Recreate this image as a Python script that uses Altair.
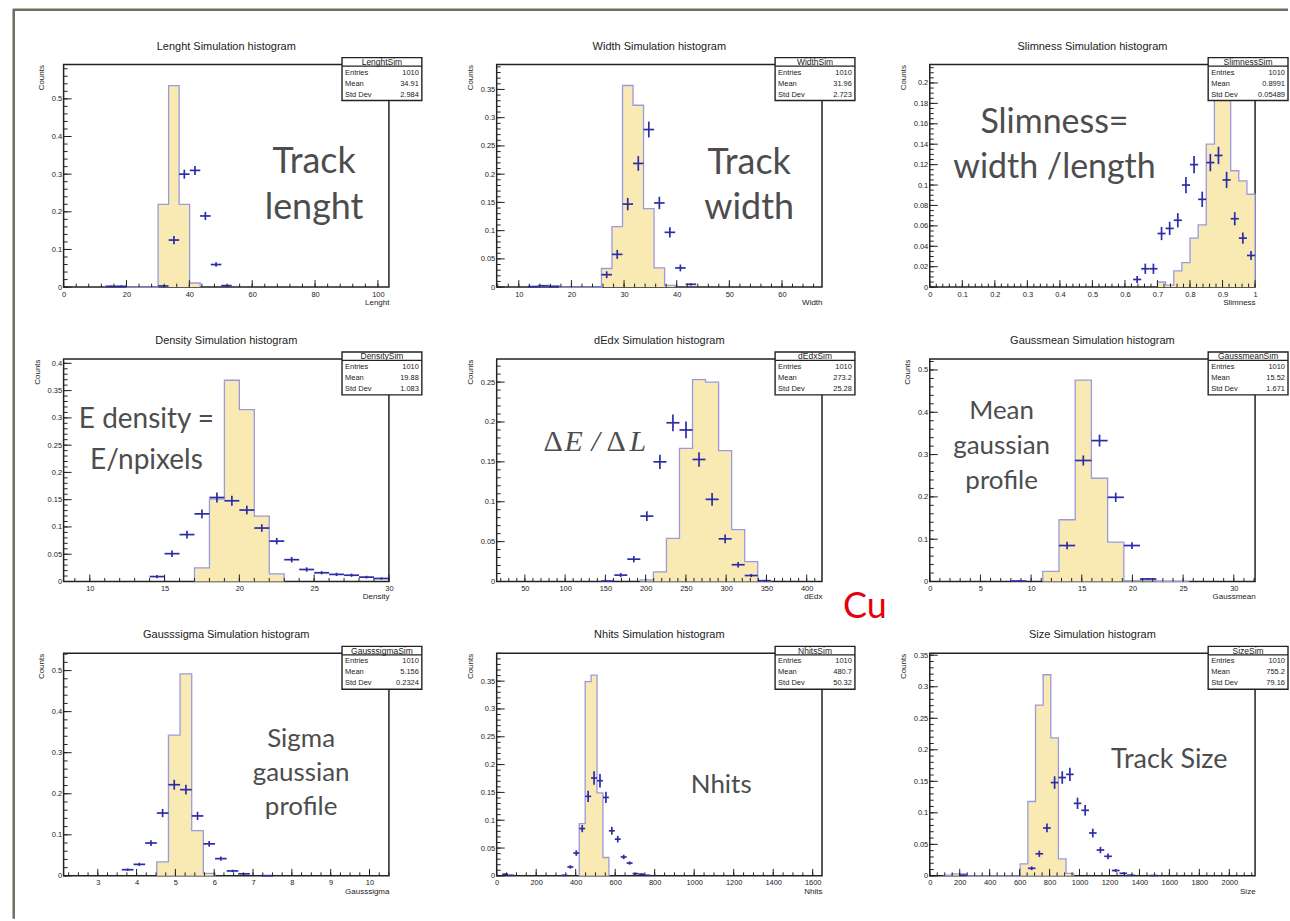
import altair as alt
import numpy as np
import pandas as pd

# ---------------- data ----------------
# 1 Lenght
LEN_EDGES = [13.3, 16.65, 20.0, 23.35, 26.7, 30.05, 33.4, 36.75, 40.1, 43.45]
LEN_VALS = [0.002, 0.002, 0, 0, 0, 0.22, 0.535, 0.22, 0.011]
LEN_X = [15.0, 18.3, 31.7, 35.1, 38.4, 41.8, 45.1, 48.5, 51.8]
LEN_Y = [0.002, 0.002, 0.003, 0.125, 0.30, 0.31, 0.189, 0.06, 0.004]
LEN_ERR = [0.002, 0.002, 0.002, 0.011, 0.012, 0.012, 0.011, 0.006, 0.002]
# 2 Width
WID_EDGES = [13.7, 15.7, 17.7, 19.7, 21.7, 23.7, 25.7, 27.7, 29.7, 31.7, 33.7, 35.7, 37.7, 39.7]
WID_VALS = [0.003, 0.002, 0, 0, 0, 0, 0.033, 0.107, 0.357, 0.322, 0.139, 0.034, 0.003]
WID_X = [12.7, 14.7, 16.7, 26.7, 28.7, 30.7, 32.7, 34.7, 36.7, 38.7, 40.7, 42.7]
WID_Y = [0.001, 0.002, 0.001, 0.022, 0.058, 0.147, 0.219, 0.279, 0.149, 0.097, 0.034, 0.005]
WID_ERR = [0.001, 0.001, 0.001, 0.006, 0.008, 0.011, 0.013, 0.014, 0.011, 0.009, 0.006, 0.002]
# 3 Slimness
SLI_EDGES = [0.700, 0.725, 0.750, 0.775, 0.800, 0.825, 0.850, 0.875, 0.900, 0.925, 0.950, 0.975, 1.000]
SLI_VALS = [0.005, 0.002, 0.016, 0.024, 0.048, 0.061, 0.14, 0.2, 0.208, 0.114, 0.104, 0.091]
SLI_X = [0.6375, 0.6625, 0.6875, 0.7125, 0.7375, 0.7625, 0.7875, 0.8125, 0.8375, 0.8625,
         0.8875, 0.9125, 0.9375, 0.9625, 0.9875]
SLI_Y = [0.0075, 0.018, 0.018, 0.0525, 0.0575, 0.0655, 0.10, 0.12, 0.086, 0.122, 0.129, 0.105,
         0.067, 0.048, 0.031]
SLI_ERR = [0.0035, 0.005, 0.005, 0.0065, 0.0065, 0.007, 0.008, 0.0085, 0.0075, 0.0085, 0.0085,
           0.008, 0.0065, 0.0055, 0.0045]
# 4 Density
DEN_EDGES = [17, 18, 19, 20, 21, 22, 23]
DEN_VALS = [0.025, 0.151, 0.369, 0.315, 0.12, 0.014]
DEN_X = [14.5, 15.5, 16.5, 17.5, 18.5, 19.5, 20.5, 21.5, 22.5, 23.5, 24.5, 25.5, 26.5, 27.5, 28.5, 29.5]
DEN_Y = [0.009, 0.051, 0.086, 0.124, 0.154, 0.148, 0.131, 0.098, 0.074, 0.040, 0.022, 0.016, 0.013,
         0.0115, 0.008, 0.0055]
DEN_ERR = [0.003, 0.006, 0.007, 0.008, 0.009, 0.009, 0.008, 0.007, 0.006, 0.005, 0.004, 0.003, 0.003,
           0.003, 0.0025, 0.002]
# 5 dEdx
DED_EDGES = [193.4, 209.6, 225.8, 242.0, 258.2, 274.4, 290.6, 306.8, 323.0, 339.2, 355.4]
DED_VALS = [0.002, 0.012, 0.054, 0.167, 0.253, 0.25, 0.164, 0.065, 0.025, 0.001]
DED_X = [152.9, 169.1, 185.3, 201.5, 217.7, 233.9, 250.1, 266.3, 282.5, 298.7, 314.9, 331.1, 347.3]
DED_Y = [0.0005, 0.008, 0.028, 0.082, 0.150, 0.199, 0.19, 0.153, 0.103, 0.0535, 0.021, 0.0075, 0.001]
DED_ERR = [0.0005, 0.0025, 0.004, 0.006, 0.009, 0.0105, 0.0105, 0.009, 0.008, 0.0055, 0.0035, 0.002, 0.001]
# 6 Gaussmean
GM_EDGES = [11.15, 12.75, 14.35, 15.95, 17.55, 19.15, 20.75, 22.35, 23.95, 25.55]
GM_VALS = [0.024, 0.146, 0.476, 0.244, 0.093, 0.002, 0.003, 0.0005, 0.0005]
GM_X = [8.75, 13.55, 15.15, 16.75, 18.35, 19.95, 21.55]
GM_Y = [0.001, 0.085, 0.286, 0.333, 0.199, 0.085, 0.006]
GM_ERR = [0.001, 0.009, 0.012, 0.014, 0.011, 0.008, 0.002]
# 7 Gausssigma
GS_EDGES = [4.52, 4.82, 5.12, 5.42, 5.72, 6.02]
GS_VALS = [0.034, 0.343, 0.492, 0.11, 0.006]
GS_X = [3.77, 4.07, 4.37, 4.67, 4.97, 5.27, 5.57, 5.87, 6.17, 6.47, 6.77, 7.37]
GS_Y = [0.015, 0.028, 0.08, 0.153, 0.222, 0.21, 0.146, 0.078, 0.042, 0.012, 0.005, 0.0005]
GS_ERR = [0.003, 0.004, 0.007, 0.01, 0.012, 0.012, 0.01, 0.007, 0.005, 0.003, 0.002, 0.001]
# 8 Nhits
NH_EDGES = [418, 448, 478, 508, 538, 568]
NH_VALS = [0.094, 0.349, 0.361, 0.149, 0.033]
NH_X = [43, 73, 343, 373, 403, 433, 463, 493, 523, 553, 583, 613, 643, 673, 703, 733, 763]
NH_Y = [0.003, 0.001, 0.001, 0.016, 0.041, 0.085, 0.143, 0.176, 0.171, 0.141, 0.081, 0.066, 0.034,
        0.023, 0.004, 0.003, 0.001]
NH_ERR = [0.001, 0.001, 0.001, 0.003, 0.005, 0.0065, 0.01, 0.012, 0.012, 0.01, 0.007, 0.006, 0.004,
          0.003, 0.0015, 0.0015, 0.001]
# 9 Size
SZ_EDGES = [94, 145, 196, 247, 298, 349, 400, 451, 502, 553, 604, 655, 706, 757, 808, 859, 910, 961]
SZ_VALS = [0.001, 0.003, 0.003, 0, 0, 0, 0, 0, 0, 0, 0.019, 0.118, 0.271, 0.319, 0.219, 0.027, 0.004]
SZ_X = [221.5, 680.5, 731.5, 782.5, 833.5, 884.5, 935.5, 986.5, 1037.5, 1088.5, 1139.5, 1190.5,
        1241.5, 1292.5, 1343.5, 1496.5]
SZ_Y = [0.001, 0.012, 0.035, 0.076, 0.148, 0.156, 0.161, 0.115, 0.104, 0.068, 0.041, 0.031, 0.0085,
        0.004, 0.001, 0.0005]
SZ_ERR = [0.001, 0.003, 0.005, 0.007, 0.01, 0.01, 0.0105, 0.009, 0.0085, 0.007, 0.005, 0.0045, 0.0025,
          0.0015, 0.001, 0.0005]

# tick labels
X_TICKS = {
    "Lenght": [0, 20, 40, 60, 80, 100],
    "Width": [10, 20, 30, 40, 50, 60],
    "Slimness": [0, 0.1, 0.2, 0.3, 0.4, 0.5, 0.6, 0.7, 0.8, 0.9, 1],
    "Density": [10, 15, 20, 25, 30],
    "dEdx": [50, 100, 150, 200, 250, 300, 350, 400],
    "Gaussmean": [0, 5, 10, 15, 20, 25, 30],
    "Gausssigma": [3, 4, 5, 6, 7, 8, 9, 10],
    "Nhits": [0, 200, 400, 600, 800, 1000, 1200, 1400, 1600],
    "Size": [0, 200, 400, 600, 800, 1000, 1200, 1400, 1600, 1800, 2000],
}
Y_TICKS = {
    "Lenght": [0, 0.1, 0.2, 0.3, 0.4, 0.5],
    "Width": [0, 0.05, 0.1, 0.15, 0.2, 0.25, 0.3, 0.35],
    "Slimness": [0, 0.02, 0.04, 0.06, 0.08, 0.1, 0.12, 0.14, 0.16, 0.18, 0.2],
    "Density": [0, 0.05, 0.1, 0.15, 0.2, 0.25, 0.3, 0.35, 0.4],
    "dEdx": [0, 0.05, 0.1, 0.15, 0.2, 0.25],
    "Gaussmean": [0, 0.1, 0.2, 0.3, 0.4, 0.5],
    "Gausssigma": [0, 0.1, 0.2, 0.3, 0.4, 0.5],
    "Nhits": [0, 0.05, 0.1, 0.15, 0.2, 0.25, 0.3, 0.35],
    "Size": [0, 0.05, 0.1, 0.15, 0.2, 0.25, 0.3, 0.35],
}
STATS = {
    "Lenght": ("LenghtSim", "1010", "34.91", "2.984"),
    "Width": ("WidthSim", "1010", "31.96", "2.723"),
    "Slimness": ("SlimnessSim", "1010", "0.8991", "0.05489"),
    "Density": ("DensitySim", "1010", "19.88", "1.083"),
    "dEdx": ("dEdxSim", "1010", "273.2", "25.28"),
    "Gaussmean": ("GaussmeanSim", "1010", "15.52", "1.671"),
    "Gausssigma": ("GausssigmaSim", "1010", "5.156", "0.2324"),
    "Nhits": ("NhitsSim", "1010", "480.7", "50.32"),
    "Size": ("SizeSim", "1010", "755.2", "79.16"),
}

# ---------------- style ----------------
W, H = 326, 223
SANS = "Liberation Sans"
ANN = "Lato"
SERIF = "Liberation Serif"
YELLOW = "#f9e9b3"
OUTLINE = "#9a9ae0"
BLUE = "#2c2ca8"
DARK = "#222222"
ANN_C = "#4d4d4d"

PANELS = [
    dict(name="Lenght", xdom=[0, 103.5], ydom=[0, 0.591], xminor=4, yminor=0.02,
         edges=LEN_EDGES, vals=LEN_VALS, cx=LEN_X, cy=LEN_Y, ce=LEN_ERR, hw=1.675,
         ann=[("Track", 251, 109, 36, ANN, "normal", "center"),
              ("lenght", 251, 155, 36, ANN, "normal", "center")]),
    dict(name="Width", xdom=[5.8, 67.6], ydom=[0, 0.394], xminor=2, yminor=0.01,
         edges=WID_EDGES, vals=WID_VALS, cx=WID_X, cy=WID_Y, ce=WID_ERR, hw=1.0,
         ann=[("Track", 253, 110, 36, ANN, "normal", "center"),
              ("width", 253, 155, 36, ANN, "normal", "center")]),
    dict(name="Slimness", xdom=[0, 1.0], ydom=[0, 0.218], xminor=0.02, yminor=0.005,
         edges=SLI_EDGES, vals=SLI_VALS, cx=SLI_X, cy=SLI_Y, ce=SLI_ERR, hw=0.0125,
         ann=[("Slimness=", 125, 69, 34, ANN, "normal", "center"),
              ("width /length", 125, 114, 34, ANN, "normal", "center")]),
    dict(name="Density", xdom=[8.25, 30], ydom=[0, 0.408], xminor=1, yminor=0.01,
         edges=DEN_EDGES, vals=DEN_VALS, cx=DEN_X, cy=DEN_Y, ce=DEN_ERR, hw=0.5,
         ann=[("E density =", 83, 69, 28, ANN, "normal", "center"),
              ("E/npixels", 83, 110, 28, ANN, "normal", "center")]),
    dict(name="dEdx", xdom=[15, 419], ydom=[0, 0.279], xminor=10, yminor=0.01,
         edges=DED_EDGES, vals=DED_VALS, cx=DED_X, cy=DED_Y, ce=DED_ERR, hw=8.1,
         ann=[("Δ", 47, 92, 30, SERIF, "normal", "left"),
              ("E", 68, 92, 30, SERIF, "italic", "left"),
              ("/", 95, 92, 30, SERIF, "italic", "left"),
              ("Δ", 110, 92, 30, SERIF, "normal", "left"),
              ("L", 133, 92, 30, SERIF, "italic", "left")]),
    dict(name="Gaussmean", xdom=[0, 32.1], ydom=[0, 0.526], xminor=1, yminor=0.02,
         edges=GM_EDGES, vals=GM_VALS, cx=GM_X, cy=GM_Y, ce=GM_ERR, hw=0.8,
         ann=[("Mean", 72, 60, 26, ANN, "normal", "center"),
              ("gaussian", 72, 95, 26, ANN, "normal", "center"),
              ("profile", 72, 130, 26, ANN, "normal", "center")]),
    dict(name="Gausssigma", xdom=[2.12, 10.5], ydom=[0, 0.542], xminor=0.25, yminor=0.02,
         edges=GS_EDGES, vals=GS_VALS, cx=GS_X, cy=GS_Y, ce=GS_ERR, hw=0.15,
         ann=[("Sigma", 238, 94, 26, ANN, "normal", "center"),
              ("gaussian", 238, 128, 26, ANN, "normal", "center"),
              ("profile", 238, 162, 26, ANN, "normal", "center")]),
    dict(name="Nhits", xdom=[0, 1647], ydom=[0, 0.40], xminor=50, yminor=0.01,
         edges=NH_EDGES, vals=NH_VALS, cx=NH_X, cy=NH_Y, ce=NH_ERR, hw=15,
         ann=[("Nhits", 225, 140, 26, ANN, "normal", "center")]),
    dict(name="Size", xdom=[0, 2172], ydom=[0, 0.353], xminor=50, yminor=0.01,
         edges=SZ_EDGES, vals=SZ_VALS, cx=SZ_X, cy=SZ_Y, ce=SZ_ERR, hw=25.5,
         ann=[("Track Size", 240, 115, 27, ANN, "normal", "center")]),
]

ONE = pd.DataFrame({"a": [0]})


def minor_ticks(lo, hi, step):
    start = np.ceil(lo / step - 1e-9) * step
    return [round(float(v), 6) for v in np.arange(start, hi + 1e-9, step)]


def text_layer(txt, x, y, size, font=SANS, color=DARK, align="center", baseline="middle",
               style="normal"):
    return alt.Chart(ONE).mark_text(font=font, fontSize=size, color=color, align=align,
                                    baseline=baseline, fontStyle=style).encode(
        x=alt.value(x), y=alt.value(y), text=alt.value(txt))


def make_panel(i, p):
    name = p["name"]
    xs = alt.Scale(domain=p["xdom"], nice=False, zero=False)
    ys = alt.Scale(domain=p["ydom"], nice=False, zero=False)
    common = dict(format=".6~g", titleFontSize=8, titleFontWeight="normal", titleFont=SANS,
                  titleColor=DARK, labelFontSize=7.5, labelFont=SANS, labelColor=DARK,
                  ticks=False, domain=False, grid=False, labelFlush=False, labelOverlap=False,
                  titleAnchor="end")
    xax = alt.Axis(values=X_TICKS[name], title=name, titlePadding=1, labelPadding=3, **common)
    yax = alt.Axis(values=Y_TICKS[name], title="Counts", titlePadding=6, labelPadding=2, **common)

    def X(f):
        return alt.X(f, type="quantitative", scale=xs, axis=xax)

    def Y(f):
        return alt.Y(f, type="quantitative", scale=ys, axis=yax)

    edges, vals = p["edges"], p["vals"]
    hdf = pd.DataFrame({"x": [edges[0]] + list(edges[:-1]) + [edges[-1]],
                        "y": [0] + list(vals) + [0]})
    area = alt.Chart(hdf).mark_area(interpolate="step-after", color=YELLOW, opacity=1).encode(
        x=X("x"), y=Y("y"))
    outline = alt.Chart(hdf).mark_line(interpolate="step-after", color=OUTLINE, strokeWidth=1.3).encode(
        x=X("x"), y=Y("y"))

    c = np.array(p["cx"], float)
    v = np.array(p["cy"], float)
    e = np.array(p["ce"], float)
    cdf = pd.DataFrame({"c": c, "v": v, "x1": c - p["hw"], "x2": c + p["hw"],
                        "lo": np.maximum(v - e, 0), "hi": v + e})
    hbar = alt.Chart(cdf).mark_rule(color=BLUE, strokeWidth=1.7).encode(
        x=X("x1"), x2="x2", y=Y("v"))
    vbar = alt.Chart(cdf).mark_rule(color=BLUE, strokeWidth=1.7).encode(
        x=X("c"), y=Y("lo"), y2="hi")

    xmaj = pd.DataFrame({"t": X_TICKS[name]})
    xmin = pd.DataFrame({"t": minor_ticks(p["xdom"][0], p["xdom"][1], p["xminor"])})
    ymaj = pd.DataFrame({"t": Y_TICKS[name]})
    ymin = pd.DataFrame({"t": minor_ticks(p["ydom"][0], p["ydom"][1], p["yminor"])})
    tk = dict(color=DARK, strokeWidth=1)
    ticks = [
        alt.Chart(xmaj).mark_rule(**tk).encode(x=X("t"), y=alt.value(H), y2=alt.value(H - 7)),
        alt.Chart(xmin).mark_rule(**tk).encode(x=X("t"), y=alt.value(H), y2=alt.value(H - 3.5)),
        alt.Chart(ymaj).mark_rule(**tk).encode(y=Y("t"), x=alt.value(0), x2=alt.value(8)),
        alt.Chart(ymin).mark_rule(**tk).encode(y=Y("t"), x=alt.value(0), x2=alt.value(4)),
    ]

    hdr, ent, mean, std = STATS[name]
    bx0, bx1, by0, by1 = W - 47, W + 33, -7, 36
    box = [
        alt.Chart(ONE).mark_rect(fill="white", stroke=DARK, strokeWidth=1.4).encode(
            x=alt.value(bx0), x2=alt.value(bx1), y=alt.value(by0), y2=alt.value(by1)),
        alt.Chart(ONE).mark_rule(color=DARK, strokeWidth=1.2).encode(
            x=alt.value(bx0), x2=alt.value(bx1), y=alt.value(1.5)),
        text_layer(hdr, (bx0 + bx1) / 2, -2.5, 8.5),
        text_layer("Entries", bx0 + 3, 8, 7.5, align="left"),
        text_layer("Mean", bx0 + 3, 19, 7.5, align="left"),
        text_layer("Std Dev", bx0 + 3, 30, 7.5, align="left"),
        text_layer(ent, bx1 - 3, 8, 7.5, align="right"),
        text_layer(mean, bx1 - 3, 19, 7.5, align="right"),
        text_layer(std, bx1 - 3, 30, 7.5, align="right"),
    ]

    extras = [text_layer(name + " Simulation histogram", W / 2, -18, 11)]
    for (t, ax, ay, fs, font, style, al) in p["ann"]:
        extras.append(text_layer(t, ax, ay, fs, font=font, color=ANN_C, baseline="alphabetic",
                                 style=style, align=al))
    if name == "dEdx":
        extras.append(text_layer("Cu", 369, 260, 36, font=ANN, color="#e3000f",
                                 baseline="alphabetic"))
    if i == 0:
        fr = dict(color="#736d60", strokeWidth=2.5)
        extras.append(alt.Chart(ONE).mark_rule(**fr).encode(
            x=alt.value(-50), y=alt.value(-55), y2=alt.value(856)))
        extras.append(alt.Chart(ONE).mark_rule(**fr).encode(
            y=alt.value(-55), x=alt.value(-51), x2=alt.value(1227)))

    return alt.layer(area, outline, hbar, vbar, *ticks, *box, *extras).properties(width=W, height=H)


charts = [make_panel(i, p) for i, p in enumerate(PANELS)]
chart = alt.concat(*charts, columns=3, spacing={"row": 72, "column": 108}, bounds="flush").properties(
    padding={"left": 10.75, "top": 6.75, "right": 0, "bottom": 0},
    background="white",
).configure_view(stroke=DARK, strokeWidth=1.5)

chart.save("out.html", embed_options={"renderer": "svg", "actions": False})
